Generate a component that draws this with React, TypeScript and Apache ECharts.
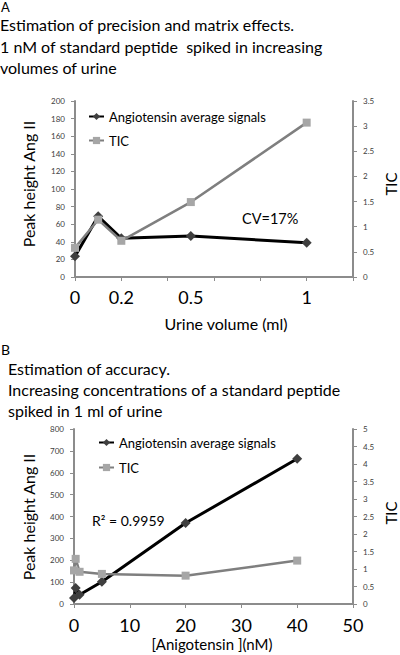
import React, { useEffect, useRef } from "react";
import * as echarts from "echarts";

const volumeA = [0, 0.1, 0.2, 0.5, 1];
const angiotensinA = [23.5, 69, 44, 46.5, 39];
const ticA = [0.58, 1.14, 0.72, 1.49, 3.07];
const xTicksA = [0, 0.2, 0.4, 0.6, 0.8, 1.0, 1.2];
const xLabelsA = [0, 0.2, 0.5, 1];

const concB = [0, 0.3, 1, 5, 20, 40];
const angiotensinB = [27, 73, 42, 102, 370, 664];
const ticB = [0.96, 1.29, 0.92, 0.86, 0.81, 1.24];

const NAME_ANG = "Angiotensin average signals";
const NAME_TIC = "TIC";
const FONT = "Lato, 'Open Sans', sans-serif";

const pair = (xs: number[], ys: number[]) => xs.map((x, i) => [x, ys[i]]);

export default function App() {
  const ref = useRef<HTMLDivElement>(null);
  useEffect(() => {
    document.body.style.margin = "0";
    const chart = echarts.init(ref.current!, null, { renderer: "svg" });
    const axisLine = { show: true, lineStyle: { color: "#8c8c8c", width: 2 } };
    const axisTick = { show: true, length: 4, lineStyle: { color: "#8c8c8c", width: 1 } };
    const smallLabel = { fontSize: 8, color: "#404040", fontFamily: FONT, margin: 10 };
    const bigLabel = { fontSize: 18, color: "#000", fontFamily: FONT, lineHeight: 18 };
    const text = (t: string, x: number, y: number, size: number, extra: any = {}) => ({
      type: "text",
      x,
      y,
      rotation: extra.rotation || 0,
      style: {
        text: t,
        fontSize: size,
        fontFamily: FONT,
        fill: "#000",
        textAlign: extra.align || "left",
        textVerticalAlign: "middle",
      },
    });
    const angSeries = (xi: number, yi: number, data: number[][]) => ({
      name: NAME_ANG,
      type: "line",
      xAxisIndex: xi,
      yAxisIndex: yi,
      data,
      clip: false,
      symbol: "diamond",
      symbolSize: 10,
      itemStyle: { color: "#3f3f3f" },
      lineStyle: { color: "#000", width: 3 },
      z: 2,
    });
    const ticSeries = (xi: number, yi: number, data: number[][]) => ({
      name: NAME_TIC,
      type: "line",
      xAxisIndex: xi,
      yAxisIndex: yi,
      data,
      clip: false,
      symbol: "rect",
      symbolSize: 8,
      itemStyle: { color: "#a6a6a6" },
      lineStyle: { color: "#7f7f7f", width: 2.5 },
      z: 3,
    });
    chart.setOption({
      animation: false,
      grid: [
        { left: 75, right: 47, top: 101, height: 176, outerBoundsMode: "none" },
        { left: 74, right: 47, top: 429, height: 175, outerBoundsMode: "none" },
      ],
      legend: [
        {
          data: [NAME_ANG, NAME_TIC],
          orient: "vertical",
          left: 83,
          top: 105,
          itemWidth: 15,
          itemHeight: 9,
          itemGap: 11,
          textStyle: { fontSize: 13, fontFamily: FONT, color: "#000" },
          selectedMode: false,
        },
        {
          data: [NAME_ANG, NAME_TIC],
          orient: "vertical",
          left: 93,
          top: 431,
          itemWidth: 15,
          itemHeight: 9,
          itemGap: 12,
          textStyle: { fontSize: 13, fontFamily: FONT, color: "#000" },
          selectedMode: false,
        },
      ],
      xAxis: [
        {
          type: "value",
          gridIndex: 0,
          min: 0,
          max: 1.2,
          interval: 0.2,
          axisLine,
          axisTick: { ...axisTick, customValues: xTicksA },
          splitLine: { show: false },
          axisLabel: { ...bigLabel, margin: 11, customValues: xLabelsA, formatter: (v: number) => String(v) },
        },
        {
          type: "value",
          gridIndex: 1,
          min: 0,
          max: 50,
          interval: 10,
          axisLine,
          axisTick,
          splitLine: { show: false },
          axisLabel: { ...bigLabel, margin: 12 },
        },
      ],
      yAxis: [
        { type: "value", gridIndex: 0, min: 0, max: 200, interval: 20, axisLine, axisTick, splitLine: { show: false }, axisLabel: smallLabel },
        { type: "value", gridIndex: 0, position: "right", min: 0, max: 3.5, interval: 0.5, axisLine, axisTick, splitLine: { show: false }, axisLabel: smallLabel },
        { type: "value", gridIndex: 1, min: 0, max: 800, interval: 100, axisLine, axisTick, splitLine: { show: false }, axisLabel: smallLabel },
        { type: "value", gridIndex: 1, position: "right", min: 0, max: 5, interval: 0.5, axisLine, axisTick, splitLine: { show: false }, axisLabel: smallLabel },
      ],
      series: [
        angSeries(0, 0, pair(volumeA, angiotensinA)),
        ticSeries(0, 1, pair(volumeA, ticA)),
        angSeries(1, 2, pair(concB, angiotensinB)),
        ticSeries(1, 3, pair(concB, ticB)),
      ],
      graphic: [
        text("A", 1, 7, 13),
        text("Estimation of precision and matrix effects.", 0, 24.5, 16),
        text("1 nM of standard peptide  spiked in increasing", 0, 46.5, 16),
        text("volumes of urine", 0, 67, 16),
        text("Peak height Ang II", 28, 184, 16, { rotation: Math.PI / 2, align: "center" }),
        text("TIC", 391, 184, 15, { rotation: Math.PI / 2, align: "center" }),
        text("Urine volume (ml)", 226, 323, 16, { align: "center" }),
        text("CV=17%", 242, 218, 14.5),
        text("B", 1, 349, 14),
        text("Estimation of accuracy.", 8, 368, 16),
        text("Increasing concentrations of a standard peptide", 8, 389, 16),
        text("spiked in 1 ml of urine", 8, 410, 16),
        text("Peak height Ang II", 28, 517, 16, { rotation: Math.PI / 2, align: "center" }),
        text("TIC", 391, 513, 15, { rotation: Math.PI / 2, align: "center" }),
        text("[Anigotensin ](nM)", 212, 644, 15, { align: "center" }),
        text("R\u00b2 = 0.9959", 92, 520, 14),
      ],
    });
    return () => chart.dispose();
  }, []);
  return <div ref={ref} style={{ width: 400, height: 655 }} />;
}
